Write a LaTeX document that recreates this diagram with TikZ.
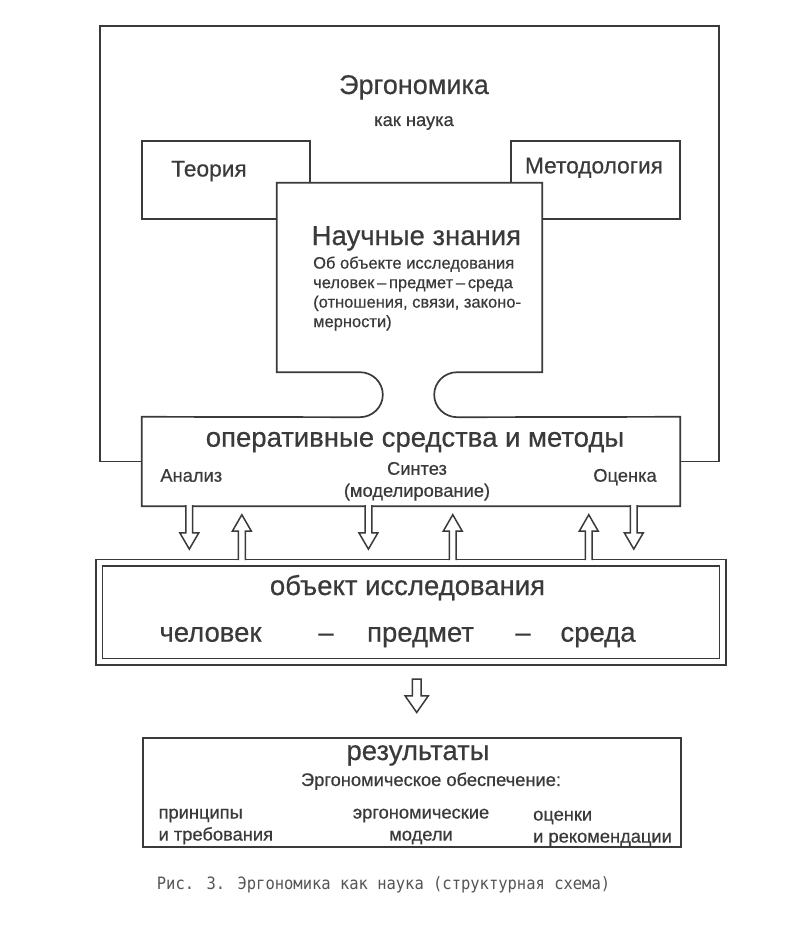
\documentclass[tikz,border=0pt]{standalone}
\usepackage{fontspec}
\setmainfont{Liberation Sans}[FakeBold=0.5]
\newfontfamily\ergpodpisfont{DejaVu Sans Mono}[FakeStretch=0.91]
\usetikzlibrary{calc}
\definecolor{ergtush}{HTML}{3A3A3A}
\definecolor{ergseryj}{HTML}{555555}
\tikzset{
  ergramka/.style={draw=ergtush, line width=1.7pt, fill=white, inner sep=0pt},
  ergfon/.style={fill=white, draw=none, inner sep=0pt},
  ergkontur/.style={draw=ergtush, line width=1.7pt, line join=miter},
  ergkrupno/.style={text=ergtush, font=\fontsize{27.5}{30}\selectfont, inner sep=0pt},
  ergsredne/.style={text=ergtush, font=\fontsize{22.7}{26}\selectfont, inner sep=0pt},
  ergmelko/.style={text=ergtush, font=\fontsize{18.3}{22}\selectfont, inner sep=0pt},
  ergopis/.style={text=ergtush, font=\fontsize{16.5}{19.5}\selectfont, inner sep=0pt},
  ergpodpis/.style={text=ergseryj, font=\ergpodpisfont\fontsize{17}{20}\selectfont, inner sep=0pt},
  ergvniz/.style={draw=ergtush, fill=white, line width=1.5pt,
    to path={let \p1=(\tikztostart), \p2=(\tikztotarget) in
      (\x1-3.4,\y1) -- (\x1-3.4,\y2+16.3) -- (\x1-9.5,\y2+16.3) -- (\x1,\y2)
      -- (\x1+9.5,\y2+16.3) -- (\x1+3.4,\y2+16.3) -- (\x1+3.4,\y1)}},
  ergvverh/.style={draw=ergtush, fill=white, line width=1.5pt,
    to path={let \p1=(\tikztostart), \p2=(\tikztotarget) in
      (\x1-3.4,\y1) -- (\x1-3.4,\y2-16.5) -- (\x1-9.5,\y2-16.5) -- (\x1,\y2)
      -- (\x1+9.5,\y2-16.5) -- (\x1+3.4,\y2-16.5) -- (\x1+3.4,\y1)}},
  ergvnizz/.style={draw=ergtush, fill=white, line width=1.5pt,
    to path={let \p1=(\tikztostart), \p2=(\tikztotarget) in
      (\x1-4.3,\y1) -- (\x1-4.3,\y2+16.6) -- (\x1-11.6,\y2+16.6) -- (\x1,\y2)
      -- (\x1+11.6,\y2+16.6) -- (\x1+4.3,\y2+16.6) -- (\x1+4.3,\y1) -- cycle}},
}

\begin{document}
\begin{tikzpicture}[x=1pt, y=1pt,
    dvojnaja/.style={ergramka, double=white, double distance=4.8pt, line width=1.8pt}
  ]
  \useasboundingbox[fill=white] (0,0) rectangle (785,-939);
  \node[ergramka, minimum width=619pt, minimum height=435.5pt] (erg) at (409.5,-243.75) {};
  \node[ergramka, minimum width=168pt, minimum height=78pt] (teoria) at (226,-180) {};
  \node[ergramka, minimum width=169pt, minimum height=78pt] (metod) at (595.5,-180) {};
  \node[ergfon, minimum width=265pt, minimum height=189pt] (nz) at (409.5,-277.5) {};
  \node[ergfon, minimum width=538pt, minimum height=89pt] (op) at (411,-461.5) {};
  \draw[ergkontur] (nz.south west) -- ([xshift=83pt]nz.south west)
    arc[start angle=90, end angle=-90, x radius=23pt, y radius=22.5pt]
    -- (op.north west) -- (op.south west) -- (op.south east) -- (op.north east)
    -- ([xshift=-85pt,yshift=-45pt]nz.south east)
    arc[start angle=270, end angle=90, x radius=23pt, y radius=22.5pt]
    -- (nz.south east) -- (nz.north east) -- (nz.north west) -- cycle;
  \node[dvojnaja, minimum width=623.5pt, minimum height=99pt] (obj) at (411,-612.2) {};
  \node[ergramka, minimum width=538pt, minimum height=108.4pt] (rez) at (412,-792.5) {};

  \draw[ergvniz] ([xshift=47.5pt,yshift=1pt]op.south west) to ([xshift=90.3pt,yshift=12.7pt]obj.north west);
  \draw[ergvniz] ([xshift=226.6pt,yshift=1pt]op.south west) to ([xshift=269.4pt,yshift=12.7pt]obj.north west);
  \draw[ergvniz] ([xshift=492pt,yshift=1pt]op.south west) to ([xshift=534.8pt,yshift=12.7pt]obj.north west);
  \draw[ergvverh] ([xshift=143.5pt,yshift=1.7pt]obj.north west) to ([xshift=100.7pt,yshift=-8.5pt]op.south west);
  \draw[ergvverh] ([xshift=354.4pt,yshift=1.7pt]obj.north west) to ([xshift=311.6pt,yshift=-8.5pt]op.south west);
  \draw[ergvverh] ([xshift=490.4pt,yshift=1.7pt]obj.north west) to ([xshift=447.6pt,yshift=-8.5pt]op.south west);
  \draw[ergvnizz] ([xshift=5.7pt,yshift=-16.6pt]obj.south) to ([xshift=4.7pt,yshift=25pt]rez.north);

  \node[ergkrupno, font=\fontsize{27}{30}\selectfont, anchor=base] (ergT) at (414,-94) {Эргономика};
  \node[ergmelko, anchor=base] (kakT) at (414,-126) {как наука};
  \node[ergsredne, anchor=base] (teoriaT) at (209,-176.5) {Теория};
  \node[ergsredne, anchor=base] (metodT) at (594,-173.3) {Методология};
  \node[ergkrupno, anchor=base] (nzT) at (416.4,-245) {Научные знания};
  \node[ergopis, anchor=north west, align=left] (nzopis) at (313,-256.3)
    {Об объекте исследования\\человек\,–\,предмет\,–\,среда\\(отношения, связи, законо-\\мерности)};
  \node[ergkrupno, anchor=base] (opT) at (415,-446.7) {оперативные средства и методы};
  \node[ergmelko, anchor=base] (analizT) at (191.3,-481.7) {Анализ};
  \node[ergmelko, anchor=north, align=center] (sintezT) at (417,-461.8) {Синтез\\(моделирование)};
  \node[ergmelko, anchor=base] (ocenkaT) at (625,-481.7) {Оценка};
  \node[ergkrupno, anchor=base] (objT) at (407.5,-595) {объект исследования};
  \node[ergkrupno, anchor=base] (chel) at (210.5,-641.7) {человек};
  \node[ergkrupno, anchor=base] (tire1) at (326,-641.7) {–};
  \node[ergkrupno, anchor=base] (predm) at (420.5,-641.7) {предмет};
  \node[ergkrupno, anchor=base] (tire2) at (523,-641.7) {–};
  \node[ergkrupno, anchor=base] (sreda) at (598,-641.7) {среда};
  \node[ergkrupno, anchor=base] (rezT) at (418,-760) {результаты};
  \node[ergmelko, anchor=base] (obespT) at (431,-786) {Эргономическое обеспечение:};
  \node[ergmelko, anchor=north west, align=left] (princ) at (158.4,-808.5) {принципы\\и требования};
  \node[ergmelko, anchor=north, align=center] (modeli) at (421,-808.5) {эргономические\\модели};
  \node[ergmelko, anchor=north west, align=left] (ocenki) at (533,-810.5) {оценки\\и рекомендации};
  \node[ergpodpis, anchor=base west] (podpis) at (156.7,-889.3) {Рис. 3. Эргономика как наука (структурная схема)};
\end{tikzpicture}
\end{document}
